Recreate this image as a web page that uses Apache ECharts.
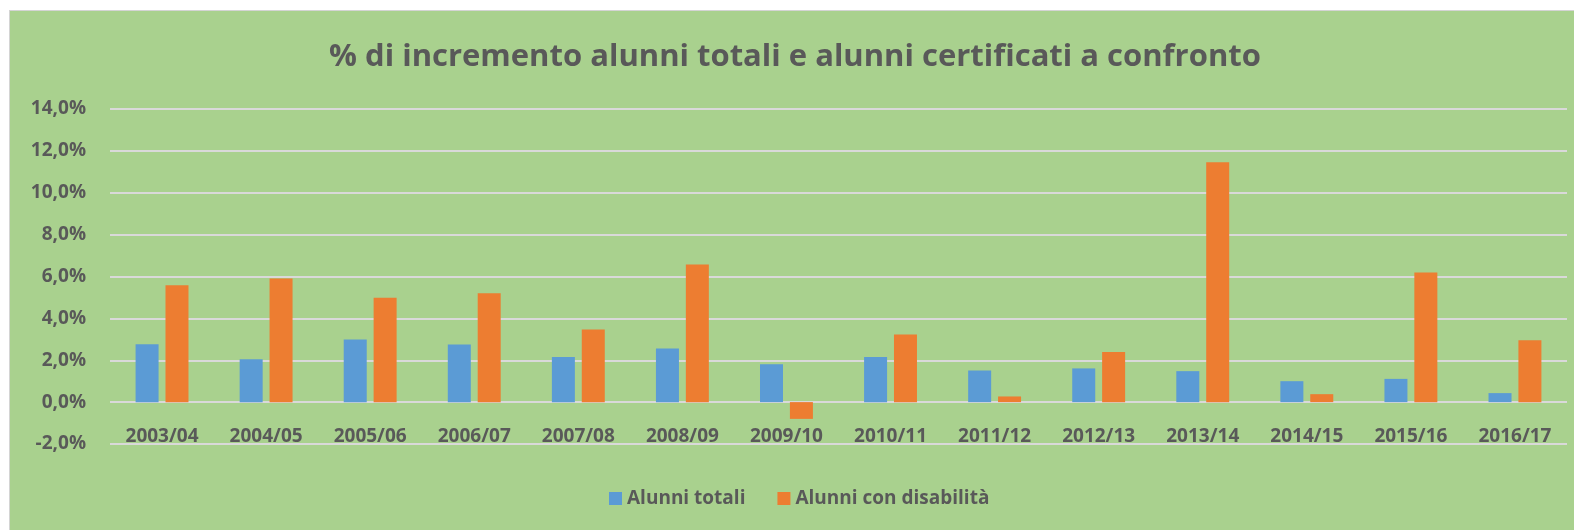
<!DOCTYPE html>
<html>
<head>
<meta charset="utf-8">
<script src="https://cdn.jsdelivr.net/npm/echarts@6/dist/echarts.min.js"></script>
<style>
	html, body { margin: 0; padding: 0; background: #ffffff; }
	#chart {
		position: absolute;
		left: 9px;
		top: 10px;
		width: 1564px;
		height: 519px;
		background: #a9d18e;
		border-top: 1px solid #d4d4d4;
		border-left: 1px solid #d4d4d4;
	}
</style>
</head>
<body>
<div id="chart"></div>
<script>
const titleText = '% di incremento alunni totali e alunni certificati a confronto';

const years = ['2003/04', '2004/05', '2005/06', '2006/07', '2007/08', '2008/09', '2009/10',
	'2010/11', '2011/12', '2012/13', '2013/14', '2014/15', '2015/16', '2016/17'];

// % increase, all pupils
const alunniTotali = [2.77, 2.05, 2.99, 2.75, 2.16, 2.56, 1.81, 2.15, 1.51, 1.61, 1.48, 1.00, 1.11, 0.43];

// % increase, pupils with disability
const alunniDisabili = [5.58, 5.90, 4.98, 5.20, 3.47, 6.57, -0.80, 3.23, 0.27, 2.40, 11.46, 0.38, 6.19, 2.95];

const seriesNames = ['Alunni totali', 'Alunni con disabilità'];

const textColor = '#595959';
const gridColor = '#d9d9d9';
const fontFamily = '"Open Sans", Lato, sans-serif';

const chart = echarts.init(document.getElementById('chart'), null, { renderer: 'canvas' });

chart.setOption({
	animation: false,
	textStyle: { fontFamily: fontFamily },
	title: {
		text: titleText,
		left: 780,
		top: 24,
		textAlign: 'center',
		textStyle: { color: textColor, fontSize: 31, fontWeight: 'bold', fontFamily: fontFamily, lineHeight: 34 }
	},
	legend: {
		left: 594,
		bottom: 17,
		itemWidth: 13,
		itemHeight: 13,
		itemGap: 32,
		icon: 'rect',
		textStyle: { color: textColor, fontSize: 19, fontWeight: 'bold', fontFamily: fontFamily },
		data: seriesNames
	},
	grid: { left: 100, right: 7, top: 98, bottom: 86, containLabel: false },
	xAxis: {
		type: 'category',
		data: years,
		axisLine: { onZero: false, show: false },
		axisTick: { show: false },
		// labels sit between the 0% and -2% lines, as in the original
		axisLabel: { color: textColor, fontSize: 19, fontWeight: 'bold', margin: -17, interval: 0 }
	},
	yAxis: {
		type: 'value',
		min: -2,
		max: 14,
		interval: 2,
		axisLine: { show: false },
		axisTick: { show: false },
		splitLine: { lineStyle: { color: gridColor, width: 2 } },
		axisLabel: {
			color: textColor, fontSize: 19, fontWeight: 'bold', margin: 24,
			formatter: v => v.toFixed(1).replace('.', ',') + '%'
		}
	},
	series: [
		{
			name: seriesNames[0],
			type: 'bar',
			data: alunniTotali,
			barWidth: 23,
			barGap: '30%',
			itemStyle: { color: '#5b9bd5' }
		},
		{
			name: seriesNames[1],
			type: 'bar',
			data: alunniDisabili,
			barWidth: 23,
			barGap: '30%',
			itemStyle: { color: '#ed7d31' }
		}
	]
});
</script>
</body>
</html>
